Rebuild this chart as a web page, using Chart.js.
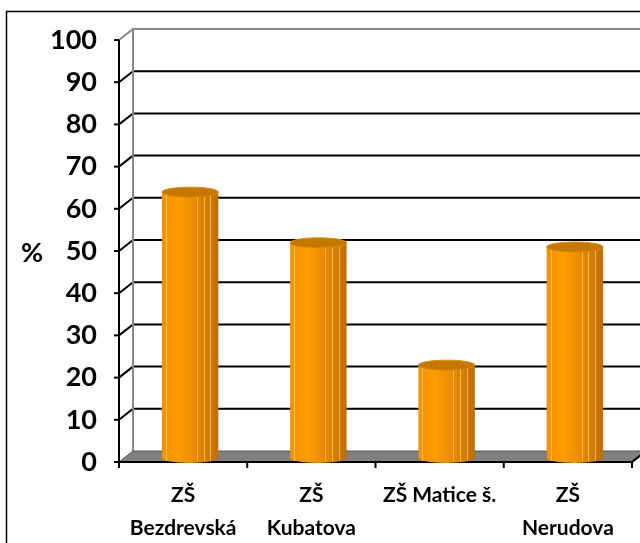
<!DOCTYPE html>
<html><head><meta charset="utf-8">
<script src="https://cdn.jsdelivr.net/npm/chart.js@4"></script>
<style>html,body{margin:0;padding:0;background:#fff}#wrap{width:640px;height:543px}</style>
</head><body><div id="wrap"><canvas id="c" width="640" height="543"></canvas></div>
<script>
const categories = [["ZŠ","Bezdrevská"],["ZŠ","Kubatova"],"ZŠ Matice š.",["ZŠ","Nerudova"]];
const values = [63, 51, 22, 50];
const yTicks = [0,10,20,30,40,50,60,70,80,90,100];
const yTitle = "%";

const FONT = "Lato";
const DX = 14, DY = 11;      // depth of back wall
const BX = 7, BY = -4;       // bars sit mid-depth

function barGradient(ctx, x0, x1){
  const g = ctx.createLinearGradient(x0,0,x1,0);
  g.addColorStop(0,'#F29200');
  g.addColorStop(0.3,'#FF9C00');
  g.addColorStop(0.55,'#EE8D00');
  g.addColorStop(0.8,'#D47E00');
  g.addColorStop(1,'#BA6D00');
  return g;
}

const deco = {
  id:'deco',
  beforeDatasetsDraw(chart){
    const {ctx, chartArea:a, scales:{x,y}} = chart;
    ctx.save();
    // outer frame
    ctx.strokeStyle='#000'; ctx.lineWidth=1.5;
    ctx.strokeRect(6.5,11.5,900,900);
    // floor
    const y0 = y.getPixelForValue(0);
    ctx.fillStyle='#808080';
    ctx.beginPath();
    ctx.moveTo(a.left,y0); ctx.lineTo(a.left+DX,y0-DY); ctx.lineTo(a.right+DX,y0-DY); ctx.lineTo(a.right,y0);
    ctx.closePath(); ctx.fill();
    ctx.strokeStyle='#555'; ctx.lineWidth=1; ctx.stroke();
    // back wall gridlines
    yTicks.forEach(v=>{
      if(v===0) return;
      const py = y.getPixelForValue(v);
      ctx.strokeStyle = v===100 ? '#888' : '#000';
      ctx.lineWidth = 2;
      ctx.beginPath();
      ctx.moveTo(a.left,py); ctx.lineTo(a.left+DX,py-DY); ctx.lineTo(a.right+DX+20,py-DY);
      ctx.stroke();
    });
    // back wall left edge
    ctx.strokeStyle='#888'; ctx.lineWidth=2;
    ctx.beginPath();
    ctx.moveTo(a.left+DX, y.getPixelForValue(100)-DY); ctx.lineTo(a.left+DX, y0-DY); ctx.stroke();
    // front y axis
    ctx.strokeStyle='#000'; ctx.lineWidth=2;
    ctx.beginPath(); ctx.moveTo(a.left, y.getPixelForValue(100)); ctx.lineTo(a.left, y0+1); ctx.stroke();
    yTicks.forEach(v=>{
      const py = y.getPixelForValue(v);
      ctx.beginPath(); ctx.moveTo(a.left-5,py); ctx.lineTo(a.left,py); ctx.stroke();
    });
    // x axis
    ctx.beginPath(); ctx.moveTo(a.left,y0); ctx.lineTo(a.right,y0); ctx.lineTo(a.right+DX,y0-DY); ctx.stroke();
    const n = categories.length, w = (a.right-a.left)/n;
    for(let i=0;i<=n;i++){
      const px = a.left + i*w;
      ctx.beginPath(); ctx.moveTo(px,y0); ctx.lineTo(px,y0+6); ctx.stroke();
    }
    // y title
    ctx.fillStyle='#000'; ctx.font='bold 27px '+FONT; ctx.textAlign='center'; ctx.textBaseline='middle';
    ctx.fillText(yTitle, 32, 253);
    ctx.restore();

    // bars style (per-element options object) + offset
    const meta = chart.getDatasetMeta(0);
    meta.data.forEach(el=>{
      el.options = Object.assign({}, el.options, {
        backgroundColor: barGradient(ctx, el.x-el.width/2, el.x+el.width/2)
      });
    });
    ctx.save();
    ctx.translate(BX,BY);
  },
  afterDatasetsDraw(chart){
    const {ctx, scales:{y}} = chart;
    const meta = chart.getDatasetMeta(0);
    const y0 = y.getPixelForValue(0);
    meta.data.forEach(el=>{
      const l = el.x-el.width/2, r = el.x+el.width/2, rx = el.width/2, ry = 5;
      // bottom rounding
      ctx.fillStyle = barGradient(ctx, l, r);
      ctx.beginPath(); ctx.ellipse(el.x, y0, rx, ry, 0, 0, Math.PI); ctx.fill();
      // stripes
      ctx.strokeStyle='rgba(255,225,160,0.55)'; ctx.lineWidth=1;
      [0.07,0.62,0.74,0.86].forEach(f=>{
        const px = Math.round(l + f*el.width)+0.5;
        ctx.beginPath(); ctx.moveTo(px, el.y); ctx.lineTo(px, y0+3); ctx.stroke();
      });
      // top cap
      ctx.fillStyle='#C47800';
      ctx.beginPath(); ctx.ellipse(el.x, el.y, rx, ry, 0, 0, 2*Math.PI); ctx.fill();
      ctx.strokeStyle='#D88A10'; ctx.lineWidth=1; ctx.stroke();
    });
    ctx.restore();
  }
};

new Chart(document.getElementById('c'), {
  type:'bar',
  data:{ labels: categories, datasets:[{ data: values, backgroundColor:'#F90', borderWidth:0, barPercentage:0.44, categoryPercentage:1 }] },
  options:{
    responsive:false, animation:false, devicePixelRatio:1,
    layout:{ padding:{ top:40, right:8, left:0, bottom:0 } },
    plugins:{ legend:{display:false}, tooltip:{enabled:false} },
    scales:{
      x:{ grid:{display:false}, border:{display:false},
          ticks:{ color:'#000', font:{family:FONT, weight:'bold', size:21, lineHeight:1.55}, maxRotation:0, autoSkip:false, padding:9 },
          afterFit(s){ s.height = 81; } },
      y:{ min:0, max:100, grid:{display:false}, border:{display:false},
          ticks:{ stepSize:10, color:'#000', font:{family:FONT, weight:'bold', size:27}, padding:14 },
          afterFit(s){ s.width = 119; } }
    }
  },
  plugins:[deco]
});
</script></body></html>
